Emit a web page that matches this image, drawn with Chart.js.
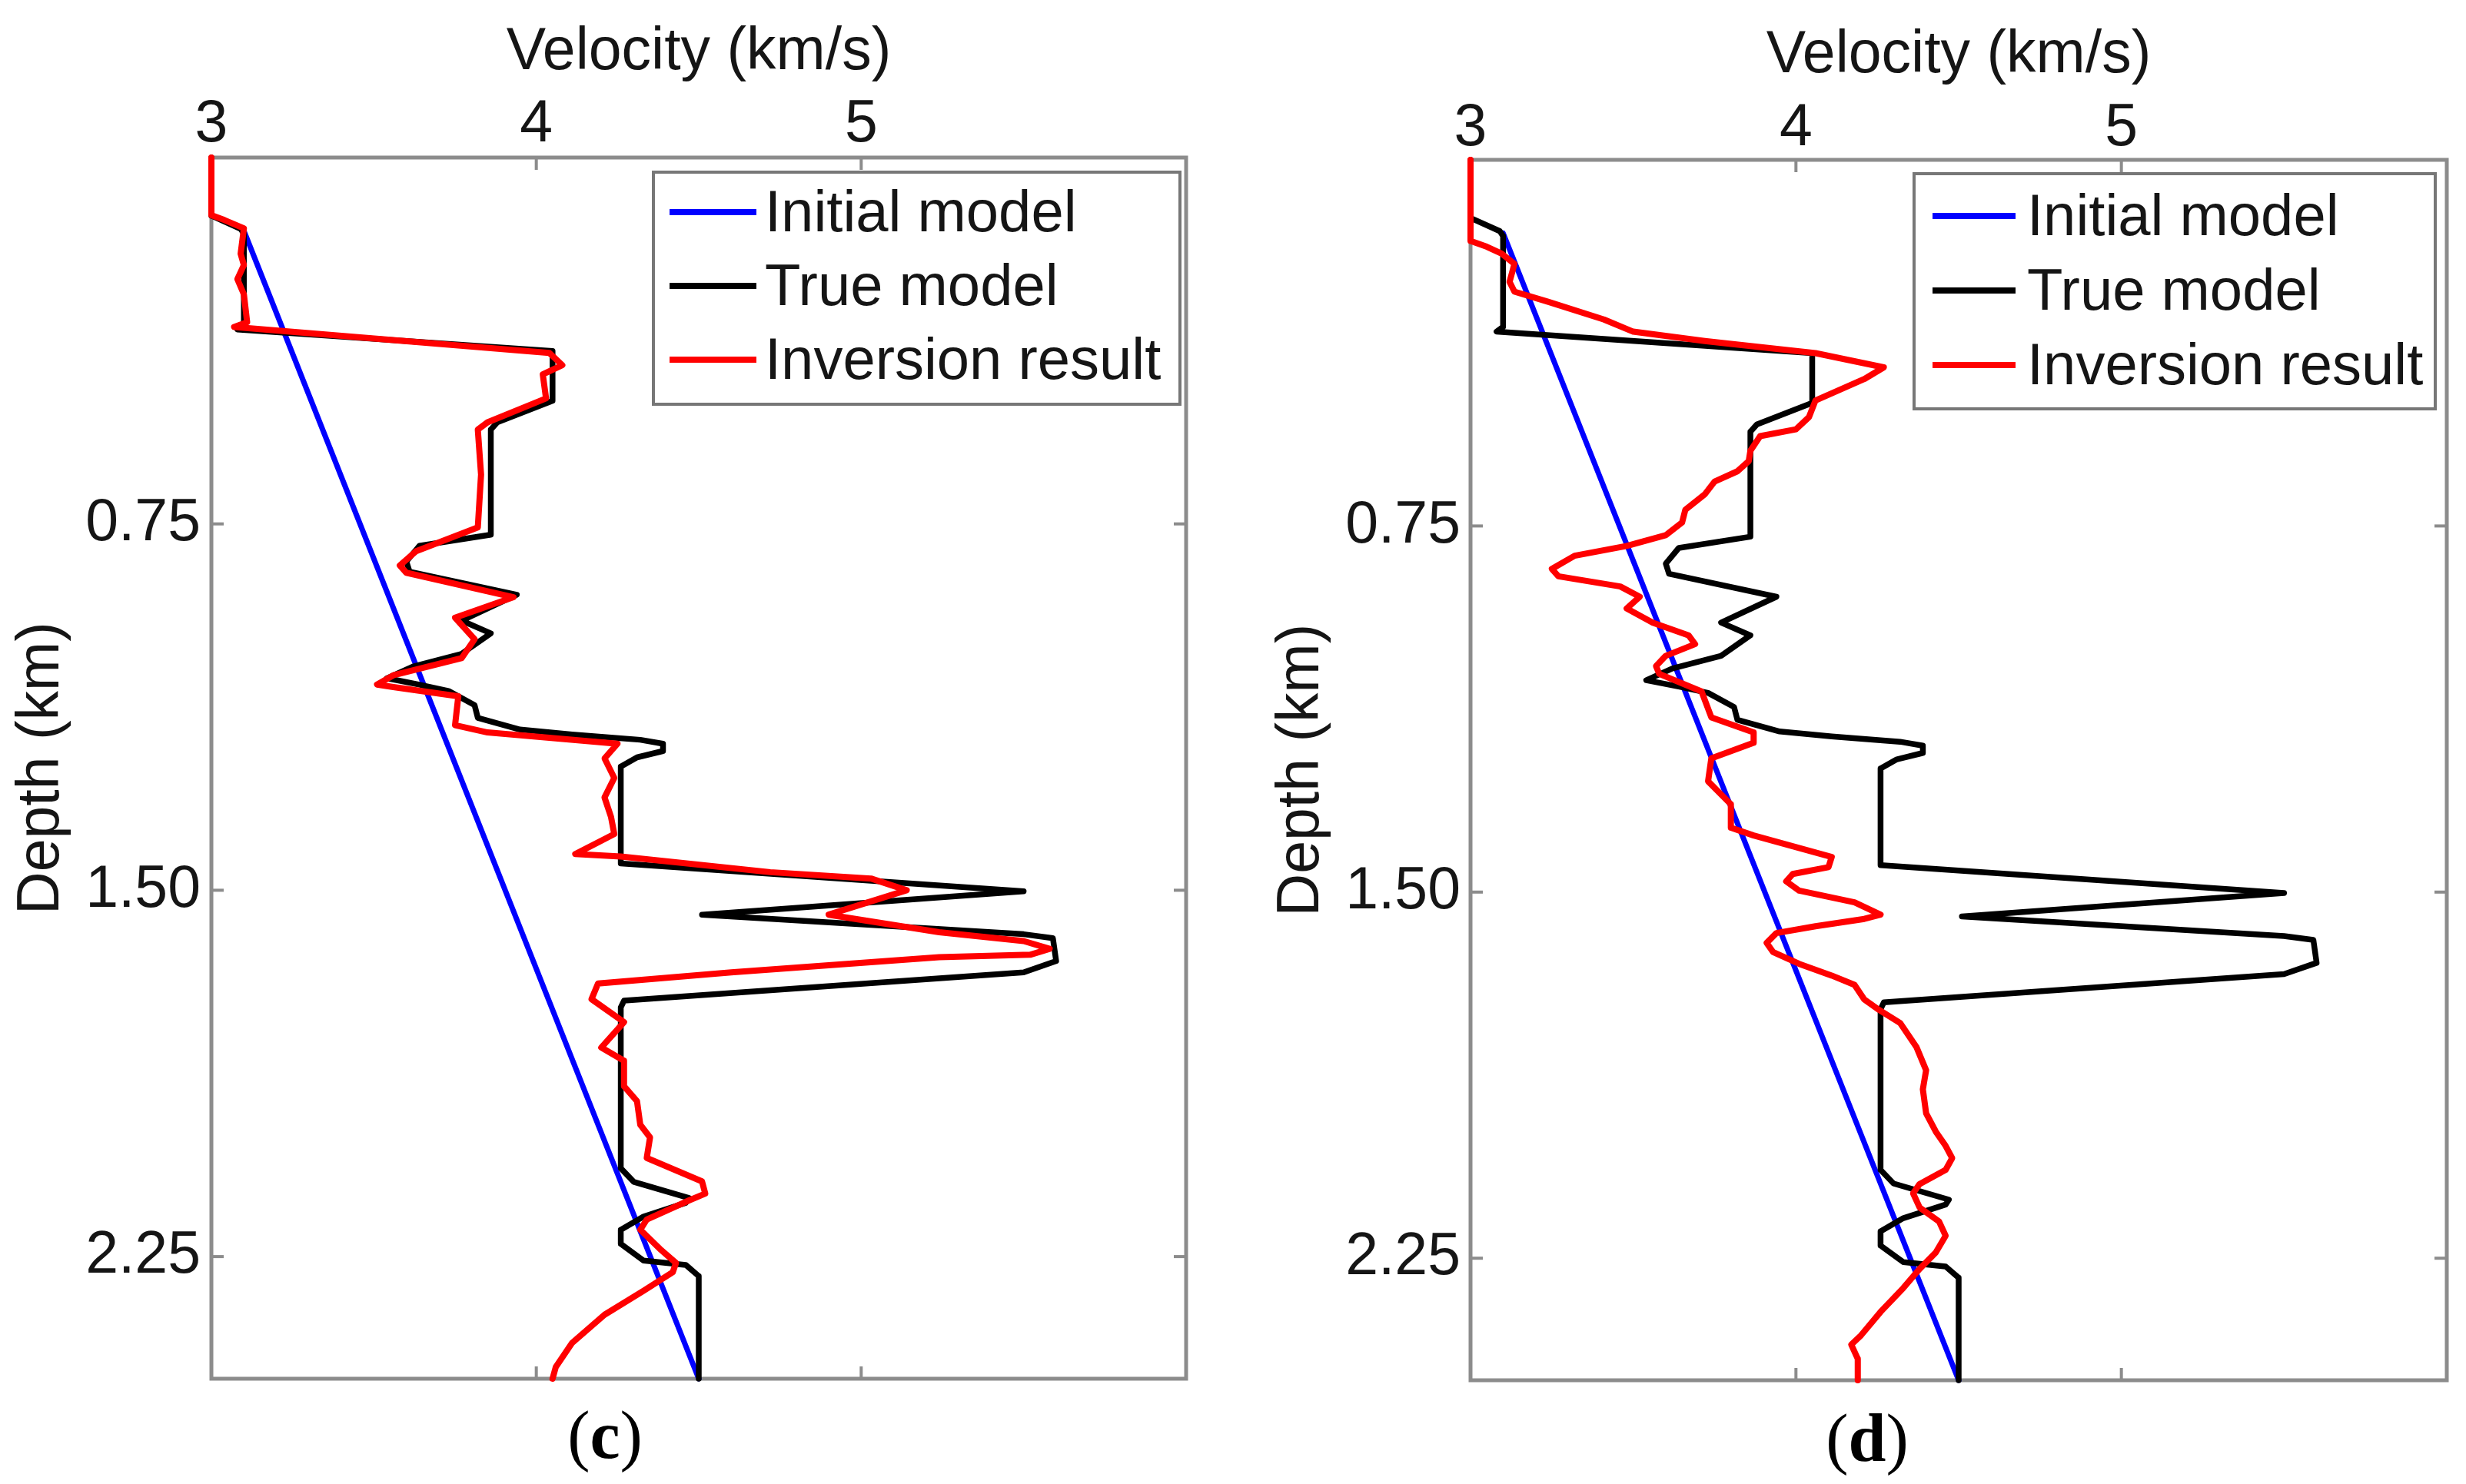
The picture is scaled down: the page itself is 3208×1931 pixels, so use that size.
<!DOCTYPE html>
<html>
<head>
<meta charset="utf-8">
<script src="https://cdn.jsdelivr.net/npm/chart.js@4.4.1/dist/chart.umd.min.js"></script>
<style>
html, body { margin: 0; padding: 0; background: #ffffff; }
#wrap { position: relative; width: 3208px; height: 1931px; overflow: hidden; background: #ffffff; }
canvas { position: absolute; top: 0; }
.cap { position: absolute; font-family: 'Liberation Serif', 'Times New Roman', serif; font-size: 88px; color: #000; transform: translate(-50%, -50%); white-space: nowrap; line-height: 1; }
.cap b { font-weight: bold; }
</style>
</head>
<body>
<div id="wrap">
  <canvas id="panelC" width="1604" height="1931" style="left:0px"></canvas>
  <canvas id="panelD" width="1604" height="1931" style="left:1604px"></canvas>
  <div class="cap" style="left:787px; top:1868px">(<b>c</b>)</div>
  <div class="cap" style="left:2429px; top:1872px">(<b>d</b>)</div>
</div>
<script>
// ---------------- data ----------------
const velocityTicks = [3, 4, 5];
const depthTicks = [0.75, 1.50, 2.25];
const seriesLabels = ['Initial model', 'True model', 'Inversion result'];

const initialDepth    = [0.15, 2.50];
const initialVelocity = [3.10, 4.50];

const trueDepth = [0.000, 0.119, 0.146, 0.156, 0.342, 0.352, 0.396, 0.498, 0.542, 0.557,
                   0.772, 0.795, 0.827, 0.848, 0.895, 0.948, 0.974, 1.016, 1.042, 1.066,
                   1.079, 1.092, 1.121, 1.147, 1.171, 1.181, 1.192, 1.200, 1.215, 1.228,
                   1.247, 1.445, 1.502, 1.550, 1.590, 1.598, 1.645, 1.668, 1.726, 1.740,
                   2.069, 2.097, 2.130, 2.140, 2.168, 2.195, 2.224, 2.258, 2.267, 2.290, 2.500];
const trueVelocity = [3.00, 3.00, 3.09, 3.10, 3.10, 3.08, 4.05, 4.05, 3.88, 3.86,
                      3.86, 3.64, 3.60, 3.61, 3.94, 3.77, 3.86, 3.77, 3.62, 3.54,
                      3.64, 3.73, 3.81, 3.82, 3.95, 4.11, 4.32, 4.39, 4.39, 4.31,
                      4.26, 4.26, 5.50, 4.51, 5.50, 5.59, 5.60, 5.50, 4.27, 4.26,
                      4.26, 4.30, 4.47, 4.46, 4.33, 4.26, 4.26, 4.33, 4.46, 4.50, 4.50];

const inversionCDepth = [0.000, 0.118, 0.128, 0.145, 0.197, 0.220, 0.249, 0.280, 0.337, 0.347,
                         0.400, 0.425, 0.444, 0.493, 0.542, 0.557, 0.649, 0.757, 0.806, 0.835,
                         0.850, 0.900, 0.942, 0.986, 1.025, 1.060, 1.079, 1.084, 1.103, 1.162,
                         1.177, 1.200, 1.230, 1.270, 1.310, 1.350, 1.385, 1.426, 1.431, 1.463,
                         1.476, 1.500, 1.550, 1.586, 1.604, 1.620, 1.632, 1.637, 1.668, 1.691,
                         1.723, 1.770, 1.822, 1.849, 1.901, 1.932, 1.980, 2.006, 2.048, 2.096,
                         2.121, 2.135, 2.174, 2.195, 2.234, 2.263, 2.282, 2.320, 2.369, 2.427,
                         2.476, 2.500];
const inversionCVelocity = [3.00, 3.00, 3.04, 3.10, 3.09, 3.10, 3.08, 3.10, 3.11, 3.07,
                            4.04, 4.08, 4.02, 4.03, 3.85, 3.82, 3.83, 3.82, 3.63, 3.58,
                            3.60, 3.93, 3.75, 3.81, 3.77, 3.56, 3.51, 3.56, 3.76, 3.75,
                            3.85, 4.25, 4.21, 4.24, 4.21, 4.23, 4.24, 4.12, 4.26, 4.72,
                            5.03, 5.14, 4.90, 5.24, 5.50, 5.58, 5.52, 5.24, 4.60, 4.19,
                            4.17, 4.27, 4.20, 4.27, 4.27, 4.31, 4.32, 4.35, 4.34, 4.51,
                            4.52, 4.47, 4.34, 4.32, 4.38, 4.43, 4.42, 4.33, 4.21, 4.11,
                            4.06, 4.05];

const inversionDDepth = [0.000, 0.124, 0.166, 0.178, 0.192, 0.213, 0.250, 0.270, 0.291, 0.327,
                         0.352, 0.371, 0.396, 0.425, 0.449, 0.493, 0.527, 0.552, 0.566, 0.596,
                         0.617, 0.638, 0.659, 0.685, 0.717, 0.743, 0.769, 0.791, 0.811, 0.838,
                         0.853, 0.874, 0.895, 0.919, 0.948, 0.974, 0.992, 1.016, 1.037, 1.053,
                         1.089, 1.142, 1.173, 1.194, 1.226, 1.273, 1.320, 1.368, 1.384, 1.428,
                         1.449, 1.463, 1.478, 1.497, 1.521, 1.546, 1.555, 1.570, 1.584, 1.604,
                         1.623, 1.647, 1.671, 1.690, 1.720, 1.739, 1.768, 1.817, 1.865, 1.904,
                         1.953, 1.991, 2.020, 2.045, 2.069, 2.098, 2.117, 2.146, 2.175, 2.204,
                         2.238, 2.272, 2.311, 2.360, 2.408, 2.427, 2.456, 2.500];
const inversionDVelocity = [3.00, 3.00, 3.00, 3.05, 3.095, 3.135, 3.12, 3.135, 3.24, 3.41,
                            3.50, 3.72, 4.06, 4.27, 4.21, 4.06, 4.04, 4.00, 3.89, 3.86,
                            3.855, 3.82, 3.75, 3.72, 3.66, 3.65, 3.60, 3.48, 3.32, 3.25,
                            3.27, 3.46, 3.52, 3.48, 3.56, 3.67, 3.69, 3.60, 3.57, 3.58,
                            3.71, 3.74, 3.87, 3.87, 3.74, 3.73, 3.80, 3.80, 3.87, 4.11,
                            4.10, 3.99, 3.97, 4.01, 4.18, 4.26, 4.21, 4.06, 3.94, 3.91,
                            3.93, 4.01, 4.11, 4.18, 4.21, 4.25, 4.32, 4.37, 4.40, 4.39,
                            4.40, 4.43, 4.46, 4.48, 4.46, 4.38, 4.36, 4.38, 4.44, 4.46,
                            4.43, 4.38, 4.33, 4.26, 4.20, 4.17, 4.19, 4.19];

// ---------------- styling / layout ----------------
const FONT = "'Liberation Sans', Arial, Helvetica, sans-serif";
const TEXT = '#151515';
const AXIS = '#8c8c8c';
const seriesColors = ['#0000ff', '#000000', '#ff0000'];
const seriesWidths = [7, 7.5, 8];
const seriesOrder = [2, 1, 0];

const geomC = { W: 1604, H: 1931, left: 275, top: 205, right: 1543, bottom: 1794,
  xTickPad: 4, yTickPad: 14, xTitlePad: 30, yTitlePad: 16,
  legend: { x: 850, y: 224, w: 685, h: 302, l0: 21, l1: 134, tx: 145, r0: 52, dr: 96 } };
const geomD = { W: 1604, H: 1931, left: 309, top: 208, right: 1579, bottom: 1796,
  xTickPad: 2, yTickPad: 13, xTitlePad: 34, yTitlePad: 51,
  legend: { x: 886, y: 226, w: 678, h: 306, l0: 24, l1: 132, tx: 147, r0: 55, dr: 97 } };

const toPoints = (vel, dep) => vel.map((v, i) => ({ x: v, y: dep[i] }));

const framePlugin = {
  id: 'frame',
  beforeDatasetsDraw(chart) {
    const { ctx, chartArea: a, scales } = chart;
    const xs = scales.x, ys = scales.y;
    ctx.save();
    ctx.strokeStyle = AXIS;
    ctx.lineWidth = 5;
    ctx.strokeRect(a.left, a.top, a.right - a.left, a.bottom - a.top);
    ctx.lineWidth = 4;
    const L = 16;
    const seg = (x1, y1, x2, y2) => { ctx.beginPath(); ctx.moveTo(x1, y1); ctx.lineTo(x2, y2); ctx.stroke(); };
    velocityTicks.forEach(v => {
      const px = xs.getPixelForValue(v);
      if (px <= a.left + 2) return;
      seg(px, a.top, px, a.top + L);
      seg(px, a.bottom, px, a.bottom - L);
    });
    depthTicks.forEach(d => {
      const py = ys.getPixelForValue(d);
      seg(a.left, py, a.left + L, py);
      seg(a.right, py, a.right - L, py);
    });
    ctx.restore();
  }
};

const legendPlugin = {
  id: 'boxLegend',
  afterDatasetsDraw(chart, args, opts) {
    const g = opts.geom;
    if (!g) return;
    const { ctx } = chart;
    ctx.save();
    ctx.fillStyle = '#ffffff';
    ctx.fillRect(g.x, g.y, g.w, g.h);
    ctx.strokeStyle = '#777777';
    ctx.lineWidth = 4;
    ctx.strokeRect(g.x, g.y, g.w, g.h);
    ctx.font = '76px ' + FONT;
    ctx.textBaseline = 'middle';
    ctx.textAlign = 'left';
    chart.data.datasets.forEach((ds, i) => {
      const yy = g.y + g.r0 + i * g.dr;
      ctx.strokeStyle = ds.borderColor;
      ctx.lineWidth = 8;
      ctx.beginPath();
      ctx.moveTo(g.x + g.l0, yy);
      ctx.lineTo(g.x + g.l1, yy);
      ctx.stroke();
      ctx.fillStyle = TEXT;
      ctx.fillText(ds.label, g.x + g.tx, yy + 4);
    });
    ctx.restore();
  }
};

function makePanel(id, g, invVel, invDep) {
  const vels = [initialVelocity, trueVelocity, invVel];
  const deps = [initialDepth, trueDepth, invDep];
  const datasets = seriesLabels.map((lab, i) => ({
    label: lab,
    data: toPoints(vels[i], deps[i]),
    borderColor: seriesColors[i],
    backgroundColor: seriesColors[i],
    borderWidth: seriesWidths[i],
    order: seriesOrder[i],
    showLine: true,
    pointRadius: 0,
    pointHoverRadius: 0,
    fill: false,
    tension: 0,
    clip: false,
    borderJoinStyle: 'round',
    borderCapStyle: 'round'
  }));
  return new Chart(document.getElementById(id), {
    type: 'scatter',
    data: { datasets },
    options: {
      responsive: false,
      devicePixelRatio: 1,
      animation: false,
      events: [],
      layout: { padding: { left: 0, top: 0, right: g.W - g.right, bottom: g.H - g.bottom } },
      plugins: {
        legend: { display: false },
        tooltip: { enabled: false },
        title: { display: false },
        boxLegend: { geom: g.legend }
      },
      scales: {
        x: {
          type: 'linear', position: 'top', min: 3, max: 6,
          afterBuildTicks: s => { s.ticks = velocityTicks.map(v => ({ value: v })); },
          afterFit: s => { s.height = g.top; },
          ticks: { autoSkip: false, maxRotation: 0, padding: g.xTickPad, color: TEXT,
                   font: { family: FONT, size: 77, lineHeight: 1 }, callback: v => String(v) },
          grid: { display: false, drawTicks: false },
          border: { display: false },
          title: { display: true, text: 'Velocity (km/s)', color: TEXT,
                   font: { family: FONT, size: 77, lineHeight: 1 }, padding: { top: g.xTitlePad, bottom: 0 } }
        },
        y: {
          type: 'linear', position: 'left', reverse: true, min: 0, max: 2.5,
          afterBuildTicks: s => { s.ticks = depthTicks.map(v => ({ value: v })); },
          afterFit: s => { s.width = g.left; },
          ticks: { autoSkip: false, padding: g.yTickPad, color: TEXT,
                   font: { family: FONT, size: 77, lineHeight: 1 }, callback: v => Number(v).toFixed(2) },
          grid: { display: false, drawTicks: false },
          border: { display: false },
          title: { display: true, text: 'Depth (km)', color: TEXT,
                   font: { family: FONT, size: 77, lineHeight: 1 }, padding: { top: g.yTitlePad, bottom: 0 } }
        }
      }
    },
    plugins: [framePlugin, legendPlugin]
  });
}

makePanel('panelC', geomC, inversionCVelocity, inversionCDepth);
makePanel('panelD', geomD, inversionDVelocity, inversionDDepth);
</script>
</body>
</html>
